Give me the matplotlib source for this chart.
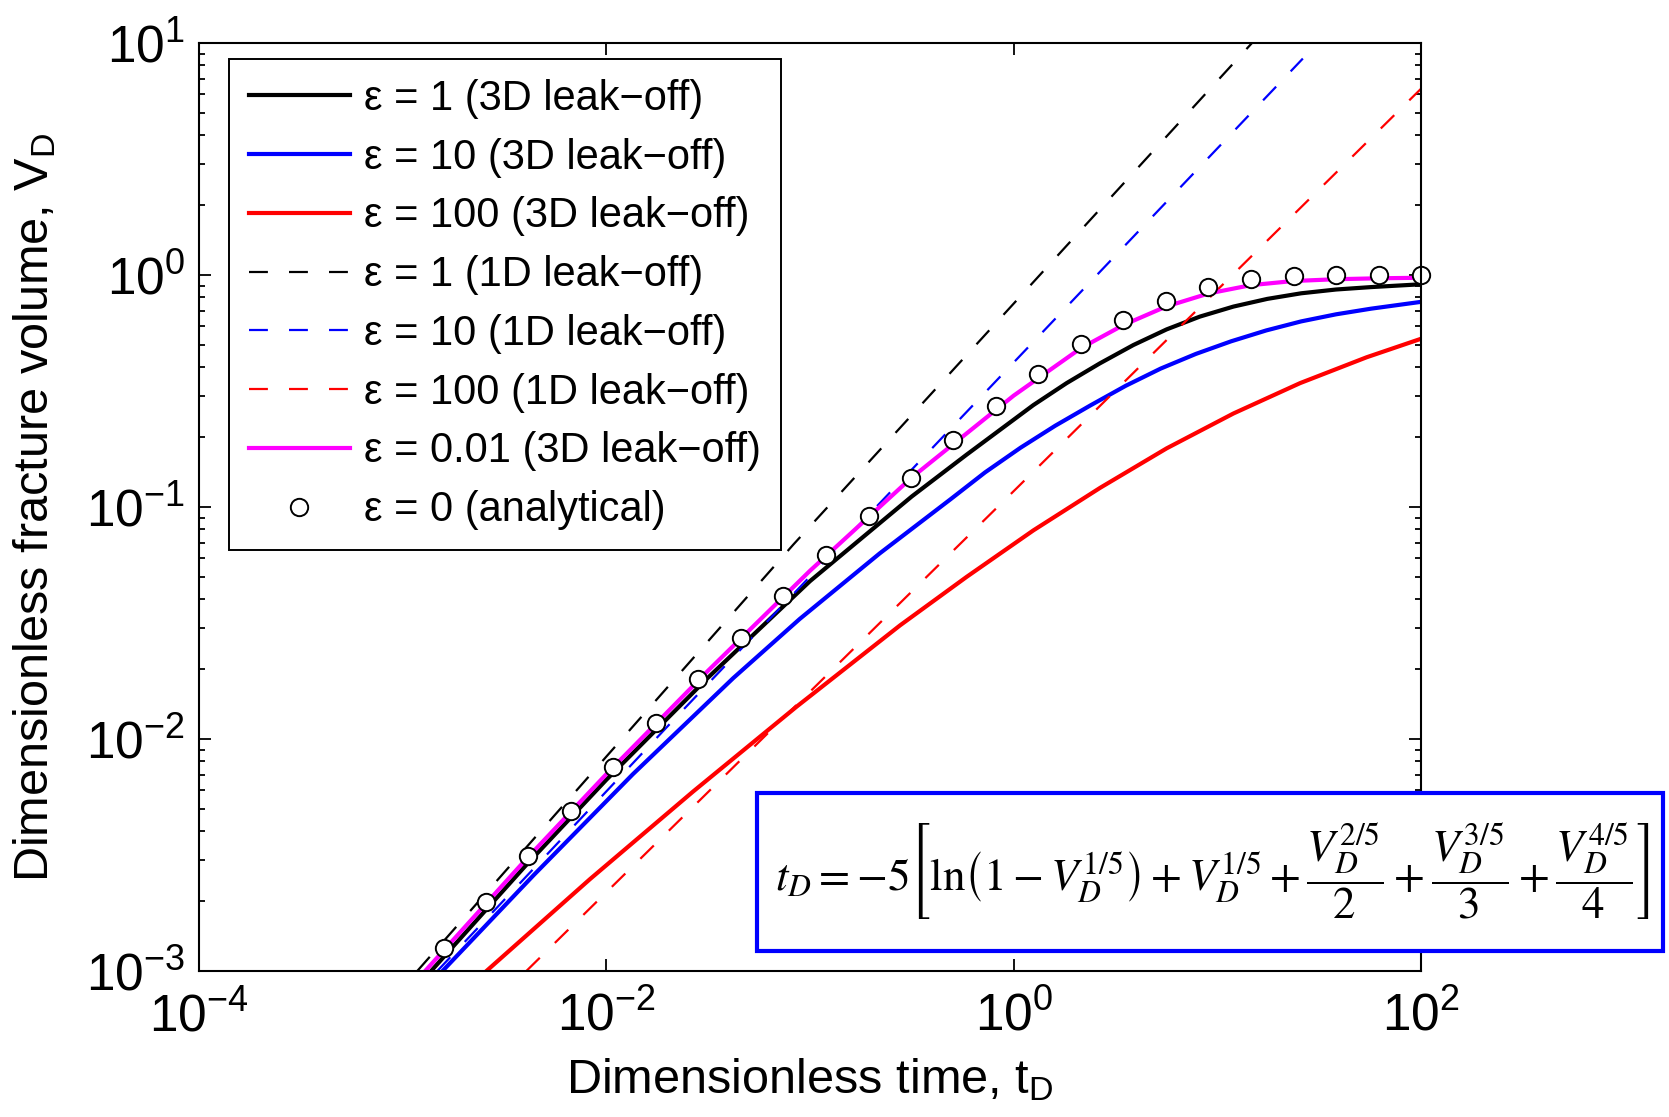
import matplotlib
matplotlib.use('Agg')
import matplotlib.pyplot as plt
from matplotlib.patches import Rectangle
from matplotlib.ticker import LogLocator, NullLocator

plt.rcParams['font.family'] = ['Liberation Sans', 'DejaVu Sans']
plt.rcParams['mathtext.fontset'] = 'custom'
plt.rcParams['mathtext.rm'] = 'Liberation Sans'
plt.rcParams['mathtext.it'] = 'Liberation Sans:italic'
plt.rcParams['mathtext.bf'] = 'Liberation Sans:bold'
plt.rcParams['axes.unicode_minus'] = True

# eps = 1, 3D leak-off
t_e1_3d = [0.00138, 0.00398, 0.01, 0.0316, 0.1, 0.316, 0.587, 1.25, 1.82, 2.65, 3.87, 5.64, 8.22, 12.0,
           17.6, 25.8, 38.3, 56.9, 100]
V_e1_3d = [0.001, 0.00282, 0.00667, 0.0184, 0.0479, 0.111, 0.168, 0.275, 0.342, 0.416, 0.499, 0.583, 0.662,
           0.731, 0.789, 0.834, 0.866, 0.887, 0.912]

# eps = 10, 3D leak-off
t_e10_3d = [0.00157, 0.0044, 0.0135, 0.042, 0.089, 0.22, 0.49, 0.724, 1.08, 1.60, 2.38, 3.55, 5.27, 7.85,
            11.7, 17.4, 25.8, 38.3, 56.9, 100]
V_e10_3d = [0.001, 0.00259, 0.00705, 0.0183, 0.0329, 0.0631, 0.108, 0.141, 0.180, 0.224, 0.274, 0.333,
            0.395, 0.457, 0.518, 0.577, 0.631, 0.677, 0.716, 0.766]

# eps = 100, 3D leak-off
t_e100_3d = [0.00258, 0.00832, 0.0267, 0.0861, 0.277, 0.588, 1.25, 2.66, 5.64, 12.0, 25.5, 54.1, 100]
V_e100_3d = [0.001, 0.00249, 0.00594, 0.0138, 0.0309, 0.050, 0.0793, 0.121, 0.179, 0.253, 0.342, 0.442, 0.531]

# 1D leak-off
t_e1_1d = [0.00118, 0.083, 14.8]
V_e1_1d = [0.001, 0.069, 10.0]
t_e10_1d = [0.00148, 0.0221, 26.3]
V_e10_1d = [0.001, 0.01245, 8.57]
t_e100_1d = [0.00405, 1.0, 100]
V_e100_1d = [0.001, 0.117, 6.35]

# eps = 0.01, 3D leak-off
t_e001_3d = [0.00129, 0.00398, 0.01, 0.0316, 0.1, 0.316, 1.0, 2.14, 3.45, 5.60, 9.04, 14.6, 23.6, 38.3, 61.7, 100]
V_e001_3d = [0.001, 0.00299, 0.00705, 0.0197, 0.0531, 0.134, 0.302, 0.484, 0.608, 0.731, 0.832, 0.904,
             0.942, 0.959, 0.968, 0.973]

# eps = 0, analytical solution
t_an = [0.00159, 0.00256, 0.00414, 0.0067, 0.0108, 0.0175, 0.0283, 0.0458, 0.0740, 0.120, 0.194, 0.313,
        0.506, 0.819, 1.32, 2.14, 3.46, 5.60, 9.05, 14.6, 23.7, 38.3, 61.9, 100]
V_an = [0.00126, 0.00199, 0.00313, 0.00488, 0.0076, 0.0117, 0.0181, 0.0273, 0.0412, 0.0622, 0.0918, 0.134,
        0.195, 0.273, 0.374, 0.504, 0.641, 0.776, 0.891, 0.962, 0.994, 0.999, 1.0, 1.0]

labels = ['ε = 1 (3D leak−off)', 'ε = 10 (3D leak−off)', 'ε = 100 (3D leak−off)',
          'ε = 1 (1D leak−off)', 'ε = 10 (1D leak−off)', 'ε = 100 (1D leak−off)',
          'ε = 0.01 (3D leak−off)', 'ε = 0 (analytical)']

fig = plt.figure(figsize=(16.69, 11.17), dpi=100, facecolor='white')
ax = fig.add_axes([0.1192, 0.1307, 0.7322, 0.8308])

lw = 3.0
dlw = 1.6
dash = (8.5, 9.5)
ax.loglog(t_e1_3d, V_e1_3d, color='k', lw=lw, label=labels[0])
ax.loglog(t_e10_3d, V_e10_3d, color=(0, 0, 1), lw=lw, label=labels[1])
ax.loglog(t_e100_3d, V_e100_3d, color=(1, 0, 0), lw=lw, label=labels[2])
ax.loglog(t_e1_1d, V_e1_1d, color='k', lw=dlw, dashes=dash, label=labels[3])
ax.loglog(t_e10_1d, V_e10_1d, color=(0, 0, 1), lw=dlw, dashes=dash, label=labels[4])
ax.loglog(t_e100_1d, V_e100_1d, color=(1, 0, 0), lw=dlw, dashes=dash, label=labels[5])
ax.loglog(t_e001_3d, V_e001_3d, color=(1, 0, 1), lw=lw, label=labels[6])
ax.loglog(t_an, V_an, ls='none', marker='o', ms=12.5, mfc='white', mec='k', mew=1.4,
          clip_on=False, label=labels[7])

ax.set_xlim(1e-4, 1e2)
ax.set_ylim(1e-3, 1e1)

ax.set_xticks([1e-4, 1e-2, 1e0, 1e2])
ax.xaxis.set_minor_locator(NullLocator())
ax.set_yticks([1e-3, 1e-2, 1e-1, 1e0, 1e1])
ax.yaxis.set_minor_locator(LogLocator(base=10, subs=range(2, 10)))

ax.tick_params(which='both', direction='in', top=True, right=True, width=1.3, labelsize=37)
ax.tick_params(which='major', length=8.5)
ax.tick_params(which='minor', length=4.3)
ax.tick_params(axis='x', pad=15)
ax.tick_params(axis='y', pad=10)
for sp in ax.spines.values():
    sp.set_linewidth(1.5)

ax.set_xlabel('Dimensionless time, t$_{\\mathrm{D}}$', fontsize=35)
ax.set_ylabel('Dimensionless fracture volume, V$_{\\mathrm{D}}$', fontsize=35)
ax.xaxis.set_label_coords(0.5, -0.092)
ax.yaxis.set_label_coords(-0.115, 0.5)

leg = ax.legend(loc='upper left', bbox_to_anchor=(0.0246, 0.9828), borderaxespad=0,
                fontsize=30, handlelength=2.42, handletextpad=0.34, labelspacing=0.45,
                borderpad=0.48, fancybox=False, framealpha=1, edgecolor='k', numpoints=1)
leg.get_frame().set_linewidth(1.4)

# boxed analytical expression, partly outside the axes
box = Rectangle((0.4536, 0.1486), 0.5428, 0.1415, transform=fig.transFigure,
                facecolor='white', edgecolor=(0, 0, 1), lw=3, zorder=5)
fig.add_artist(box)
formula = (r'$t_D = -5\left[\mathrm{ln}\left(1-V_D^{1/5}\right)+V_D^{1/5}+\dfrac{V_D^{2/5}}{2}'
           r'+\dfrac{V_D^{3/5}}{3}+\dfrac{V_D^{4/5}}{4}\right]$')
fig.text(0.7265, 0.2193, formula, fontsize=32.5, math_fontfamily='stix',
         ha='center', va='center', zorder=6)

fig.savefig('out.png', dpi=100)
